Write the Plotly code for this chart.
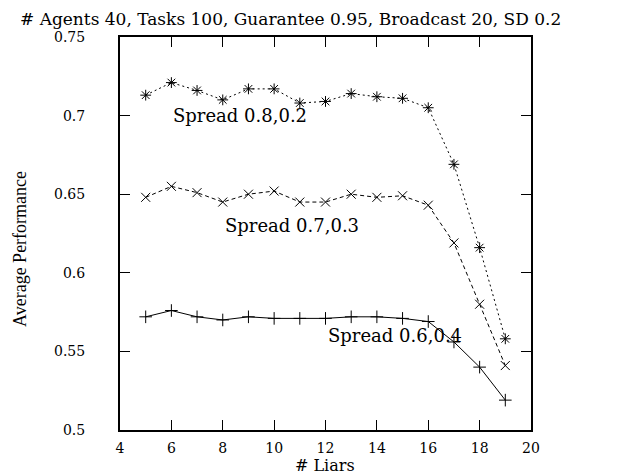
import plotly.graph_objects as go

liars = [5, 6, 7, 8, 9, 10, 11, 12, 13, 14, 15, 16, 17, 18, 19]
spread_82 = [0.713, 0.721, 0.716, 0.710, 0.717, 0.717, 0.708, 0.709, 0.714, 0.712, 0.711, 0.705, 0.669, 0.616, 0.558]
spread_73 = [0.648, 0.655, 0.651, 0.645, 0.650, 0.652, 0.645, 0.645, 0.650, 0.648, 0.649, 0.643, 0.619, 0.580, 0.541]
spread_64 = [0.572, 0.576, 0.572, 0.570, 0.572, 0.571, 0.571, 0.571, 0.572, 0.572, 0.571, 0.569, 0.556, 0.540, 0.519]

labels = ["Spread 0.8,0.2", "Spread 0.7,0.3", "Spread 0.6,0.4"]
label_x = [6, 8, 12]
label_y = [0.7, 0.63, 0.56]

x_ticks = [4, 6, 8, 10, 12, 14, 16, 18, 20]
y_ticks = [0.5, 0.55, 0.6, 0.65, 0.7, 0.75]
y_tick_text = ["0.5", "0.55", "0.6", "0.65", "0.7", "0.75"]

title = "# Agents 40, Tasks 100, Guarantee 0.95, Broadcast 20, SD 0.2"

SERIF = "DejaVu Serif"
OFF = 8  # default page body margin
W, H = 624 - OFF, 475 - OFF
L, T = 120 - OFF, 37 - OFF
PW, PH = 411, 393
R, B = W - L - PW, H - T - PH

def px(x):
    return (x - OFF - L) / PW

def py(y):
    return (H - B - (y - OFF)) / PH

fig = go.Figure()
series = [
    (spread_82, "2px,3px", "asterisk-open"),
    (spread_73, "4px,3px", "x-thin-open"),
    (spread_64, "solid", "cross-thin-open"),
]
for vals, dash, sym in series:
    fig.add_trace(go.Scatter(
        x=liars, y=vals, mode="lines+markers",
        line=dict(color="black", width=1, dash=dash),
        marker=dict(symbol=sym, size=9, color="black", line=dict(color="black", width=1)),
        showlegend=False,
    ))

annotations = []
for t, xx, yy in zip(labels, label_x, label_y):
    annotations.append(dict(x=xx, y=yy, xref="x", yref="y", text=t, showarrow=False,
                            xanchor="left", yanchor="middle",
                            font=dict(family=SERIF, size=18, color="black")))
annotations.append(dict(x=px(18), y=py(19), xref="paper", yref="paper", text=title,
                        showarrow=False, xanchor="left", yanchor="middle",
                        font=dict(family=SERIF, size=17, color="black")))
annotations.append(dict(x=px(20), y=py(249), xref="paper", yref="paper", text="Average Performance",
                        showarrow=False, xanchor="center", yanchor="middle", textangle=-90,
                        font=dict(family="Liberation Serif", size=18, color="black")))
annotations.append(dict(x=px(325), y=py(465), xref="paper", yref="paper", text="# Liars",
                        showarrow=False, xanchor="center", yanchor="middle",
                        font=dict(family=SERIF, size=16, color="black")))

axis_common = dict(showgrid=False, zeroline=False, showline=True, linecolor="black", linewidth=2,
                   mirror="ticks", ticks="inside", ticklen=10, tickwidth=1, tickcolor="black",
                   tickfont=dict(family=SERIF, size=14, color="black"))

fig.update_layout(
    width=W, height=H,
    margin=dict(l=L, r=R, t=T, b=B, pad=0),
    paper_bgcolor="white", plot_bgcolor="white",
    xaxis=dict(range=[4, 20], tickvals=x_ticks, ticklabelstandoff=4, **axis_common),
    yaxis=dict(range=[0.5, 0.75], tickvals=y_ticks, ticktext=y_tick_text, ticklabelstandoff=30, **axis_common),
    annotations=annotations,
)

fig.write_html("out.html")
